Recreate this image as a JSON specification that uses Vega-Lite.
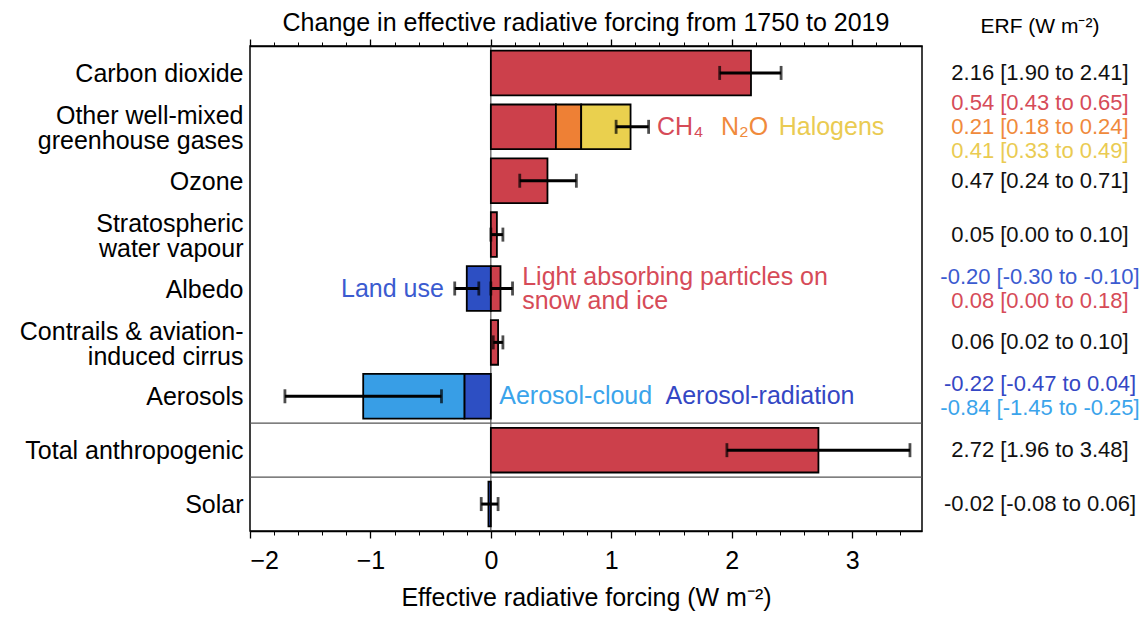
{
  "$schema": "https://vega.github.io/schema/vega-lite/v6.json",
  "background": "white",
  "padding": {"left": 9, "top": 10, "right": 4, "bottom": 4},
  "spacing": 16,
  "config": {
    "font": "Liberation Sans",
    "axis": {"labelFont": "Liberation Sans", "titleFont": "Liberation Sans", "labelColor": "black", "titleColor": "black", "tickColor": "black", "domainColor": "black", "grid": false},
    "title": {"font": "Liberation Sans", "fontWeight": "normal", "color": "black", "fontSize": 25, "anchor": "middle"}
  },
  "datasets": {
    "bars": [
      {"cat": "Carbon dioxide", "comp": "Carbon dioxide", "start": 0, "end": 2.16},
      {"cat": "Other well-mixed|greenhouse gases", "comp": "CH4", "start": 0, "end": 0.54},
      {"cat": "Other well-mixed|greenhouse gases", "comp": "N2O", "start": 0.54, "end": 0.75},
      {"cat": "Other well-mixed|greenhouse gases", "comp": "Halogens", "start": 0.75, "end": 1.16},
      {"cat": "Ozone", "comp": "Ozone", "start": 0, "end": 0.47},
      {"cat": "Stratospheric|water vapour", "comp": "Stratospheric water vapour", "start": 0, "end": 0.05},
      {"cat": "Albedo", "comp": "Land use", "start": -0.2, "end": 0},
      {"cat": "Albedo", "comp": "Light absorbing particles", "start": 0, "end": 0.08},
      {"cat": "Contrails & aviation-|induced cirrus", "comp": "Contrails", "start": 0, "end": 0.06},
      {"cat": "Aerosols", "comp": "Aerosol-radiation", "start": -0.22, "end": 0},
      {"cat": "Aerosols", "comp": "Aerosol-cloud", "start": -1.06, "end": -0.22},
      {"cat": "Total anthropogenic", "comp": "Total anthropogenic", "start": 0, "end": 2.72},
      {"cat": "Solar", "comp": "Solar", "start": -0.02, "end": 0}
    ],
    "errs": [
      {"cat": "Carbon dioxide", "lo": 1.90, "hi": 2.41},
      {"cat": "Other well-mixed|greenhouse gases", "lo": 1.04, "hi": 1.31},
      {"cat": "Ozone", "lo": 0.24, "hi": 0.71},
      {"cat": "Stratospheric|water vapour", "lo": 0.00, "hi": 0.10},
      {"cat": "Albedo", "lo": -0.30, "hi": -0.10},
      {"cat": "Albedo", "lo": 0.00, "hi": 0.18},
      {"cat": "Contrails & aviation-|induced cirrus", "lo": 0.02, "hi": 0.10},
      {"cat": "Aerosols", "lo": -1.71, "hi": -0.41},
      {"cat": "Total anthropogenic", "lo": 1.96, "hi": 3.48},
      {"cat": "Solar", "lo": -0.08, "hi": 0.06}
    ],
    "notesLeft": [
      {"cat": "Other well-mixed|greenhouse gases", "x": 1.38, "label": "CH₄", "tone": "CH4"},
      {"cat": "Other well-mixed|greenhouse gases", "x": 1.91, "label": "N₂O", "tone": "N2O"},
      {"cat": "Other well-mixed|greenhouse gases", "x": 2.39, "label": "Halogens", "tone": "Halogens"},
      {"cat": "Aerosols", "x": 0.07, "label": "Aerosol-cloud", "tone": "ACI"},
      {"cat": "Aerosols", "x": 1.45, "label": "Aerosol-radiation", "tone": "ARI"}
    ],
    "notesTwoLine": [
      {"cat": "Albedo", "x": 0.26, "label": "Light absorbing particles on\nsnow and ice", "tone": "LAP"}
    ],
    "notesRight": [
      {"cat": "Albedo", "x": -0.39, "label": "Land use", "tone": "Land use"}
    ],
    "erf": [
      {"cat": "Carbon dioxide", "slot": "mid", "label": "2.16 [1.90 to 2.41]", "tone": "black"},
      {"cat": "Other well-mixed|greenhouse gases", "slot": "t3", "label": "0.54 [0.43 to 0.65]", "tone": "CH4"},
      {"cat": "Other well-mixed|greenhouse gases", "slot": "mid", "label": "0.21 [0.18 to 0.24]", "tone": "N2O"},
      {"cat": "Other well-mixed|greenhouse gases", "slot": "b3", "label": "0.41 [0.33 to 0.49]", "tone": "Halogens"},
      {"cat": "Ozone", "slot": "mid", "label": "0.47 [0.24 to 0.71]", "tone": "black"},
      {"cat": "Stratospheric|water vapour", "slot": "mid", "label": "0.05 [0.00 to 0.10]", "tone": "black"},
      {"cat": "Albedo", "slot": "t2", "label": "-0.20 [-0.30 to -0.10]", "tone": "Land use"},
      {"cat": "Albedo", "slot": "b2", "label": "0.08 [0.00 to 0.18]", "tone": "LAP"},
      {"cat": "Contrails & aviation-|induced cirrus", "slot": "mid", "label": "0.06 [0.02 to 0.10]", "tone": "black"},
      {"cat": "Aerosols", "slot": "t2", "label": "-0.22 [-0.47 to 0.04]", "tone": "ARI"},
      {"cat": "Aerosols", "slot": "b2", "label": "-0.84 [-1.45 to -0.25]", "tone": "ACI"},
      {"cat": "Total anthropogenic", "slot": "mid", "label": "2.72 [1.96 to 3.48]", "tone": "black"},
      {"cat": "Solar", "slot": "mid", "label": "-0.02 [-0.08 to 0.06]", "tone": "black"}
    ],
    "zero": [{"x": 0}],
    "seps": [{"cat": "Total anthropogenic"}, {"cat": "Solar"}]
  },
  "hconcat": [
    {
      "title": {"text": "Change in effective radiative forcing from 1750 to 2019", "offset": 2},
      "width": 672,
      "height": 485,
      "view": {"stroke": "black", "strokeWidth": 1.5},
      "resolve": {"axis": {"x": "independent"}, "scale": {"color": "independent"}},
      "layer": [
        {
          "data": {"name": "zero"},
          "mark": {"type": "rule", "color": "#333333", "strokeWidth": 1},
          "encoding": {
            "x": {"field": "x", "type": "quantitative",
              "scale": {"domain": [-2, 3.58], "nice": false, "zero": false},
              "axis": {"orient": "bottom", "values": [-2, -1, 0, 1, 2, 3], "tickSize": 7, "tickWidth": 1.3, "labelFontSize": 25, "labelPadding": 10,
                "labelExpr": "datum.value < 0 ? '−' + abs(datum.value) : datum.label",
                "title": "Effective radiative forcing (W m⁻²)", "titleFontSize": 25, "titleFontWeight": "normal", "titlePadding": 12,
                "domain": true, "domainWidth": 1.5}
            }
          }
        },
        {
          "data": {"name": "bars"},
          "mark": {"type": "bar", "stroke": "black", "strokeWidth": 1.8, "size": 44.7},
          "encoding": {
            "y": {"field": "cat", "type": "nominal",
              "scale": {"type": "band", "domain": ["Carbon dioxide", "Other well-mixed|greenhouse gases", "Ozone", "Stratospheric|water vapour", "Albedo", "Contrails & aviation-|induced cirrus", "Aerosols", "Total anthropogenic", "Solar"], "paddingInner": 0.17, "paddingOuter": 0.085},
              "axis": {"title": null, "ticks": false, "domain": false, "labelFontSize": 25, "labelLineHeight": 25, "labelPadding": 7, "labelLimit": 0,
                "labelOffset": {"condition": {"test": "indexof(datum.value, '|') >= 0", "value": -10.5}, "value": 1},
                "labelExpr": "split(datum.label, '|')", "minExtent": 240, "maxExtent": 240}
            },
            "x": {"field": "start", "type": "quantitative",
              "axis": {"orient": "bottom", "values": [-2, -1.8, -1.6, -1.4, -1.2, -1, -0.8, -0.6, -0.4, -0.2, 0, 0.2, 0.4, 0.6, 0.8, 1, 1.2, 1.4, 1.6, 1.8, 2, 2.2, 2.4, 2.6, 2.8, 3, 3.2, 3.4], "tickSize": 4, "tickWidth": 1, "labels": false, "domain": false, "title": null}
            },
            "x2": {"field": "end"},
            "color": {"field": "comp", "type": "nominal", "legend": null,
              "scale": {
                "domain": ["Carbon dioxide", "CH4", "N2O", "Halogens", "Ozone", "Stratospheric water vapour", "Land use", "Light absorbing particles", "Contrails", "Aerosol-radiation", "Aerosol-cloud", "Total anthropogenic", "Solar"],
                "range": ["#CC404B", "#CC404B", "#EE8035", "#EAD04E", "#CC404B", "#CC404B", "#2D4FC3", "#CC404B", "#CC404B", "#2D4FC3", "#389EE6", "#CC404B", "#2D4FC3"]
              }
            }
          }
        },
        {
          "data": {"name": "seps"},
          "mark": {"type": "rule", "color": "#555555", "strokeWidth": 1.2},
          "encoding": {
            "y": {"field": "cat", "type": "nominal", "bandPosition": -0.1024, "scale": {"type": "band"}}
          }
        },
        {
          "data": {"name": "errs"},
          "mark": {"type": "rule", "color": "black", "strokeWidth": 3},
          "encoding": {
            "y": {"field": "cat", "type": "nominal", "scale": {"type": "band"}},
            "x": {"field": "lo", "type": "quantitative",
              "axis": {"orient": "top", "values": [-2, -1, 0, 1, 2, 3], "tickSize": 7, "tickWidth": 1.3, "labels": false, "title": null, "domain": true, "domainWidth": 1.5}
            },
            "x2": {"field": "hi"}
          }
        },
        {
          "data": {"name": "errs"},
          "transform": [{"fold": ["lo", "hi"], "as": ["end", "value"]}],
          "mark": {"type": "tick", "color": "black", "thickness": 2.8, "size": 14, "orient": "vertical"},
          "encoding": {
            "y": {"field": "cat", "type": "nominal", "scale": {"type": "band"}},
            "x": {"field": "value", "type": "quantitative",
              "axis": {"orient": "top", "values": [-2, -1.8, -1.6, -1.4, -1.2, -1, -0.8, -0.6, -0.4, -0.2, 0, 0.2, 0.4, 0.6, 0.8, 1, 1.2, 1.4, 1.6, 1.8, 2, 2.2, 2.4, 2.6, 2.8, 3, 3.2, 3.4], "tickSize": 4, "tickWidth": 1, "labels": false, "domain": false, "title": null}
            }
          }
        },
        {
          "data": {"name": "notesLeft"},
          "mark": {"type": "text", "align": "left", "baseline": "middle", "fontSize": 25},
          "encoding": {
            "y": {"field": "cat", "type": "nominal", "scale": {"type": "band"}},
            "x": {"field": "x", "type": "quantitative", "axis": null},
            "text": {"field": "label"},
            "color": {"field": "tone", "type": "nominal", "legend": null,
              "scale": {"domain": ["CH4", "N2O", "Halogens", "Land use", "LAP", "ARI", "ACI"],
                "range": ["#D64B58", "#F08A3C", "#EACB52", "#3B5BD0", "#D64B58", "#3447C4", "#3BA4EB"]}
            }
          }
        },
        {
          "data": {"name": "notesTwoLine"},
          "mark": {"type": "text", "align": "left", "baseline": "middle", "fontSize": 25, "lineBreak": "\n", "lineHeight": 24, "dy": -12},
          "encoding": {
            "y": {"field": "cat", "type": "nominal", "scale": {"type": "band"}},
            "x": {"field": "x", "type": "quantitative", "axis": null},
            "text": {"field": "label"},
            "color": {"field": "tone", "type": "nominal", "legend": null,
              "scale": {"domain": ["CH4", "N2O", "Halogens", "Land use", "LAP", "ARI", "ACI"],
                "range": ["#D64B58", "#F08A3C", "#EACB52", "#3B5BD0", "#D64B58", "#3447C4", "#3BA4EB"]}
            }
          }
        },
        {
          "data": {"name": "notesRight"},
          "mark": {"type": "text", "align": "right", "baseline": "middle", "fontSize": 25},
          "encoding": {
            "y": {"field": "cat", "type": "nominal", "scale": {"type": "band"}},
            "x": {"field": "x", "type": "quantitative", "axis": null},
            "text": {"field": "label"},
            "color": {"field": "tone", "type": "nominal", "legend": null,
              "scale": {"domain": ["CH4", "N2O", "Halogens", "Land use", "LAP", "ARI", "ACI"],
                "range": ["#D64B58", "#F08A3C", "#EACB52", "#3B5BD0", "#D64B58", "#3447C4", "#3BA4EB"]}
            }
          }
        }
      ]
    },
    {
      "title": {"text": "ERF (W m⁻²)", "fontSize": 21, "offset": 9},
      "width": 200,
      "height": 485,
      "view": {"stroke": null},
      "data": {"name": "erf"},
      "mark": {"type": "text", "align": "center", "baseline": "middle", "fontSize": 22},
      "encoding": {
        "y": {"field": "cat", "type": "nominal", "axis": null,
          "scale": {"type": "band", "domain": ["Carbon dioxide", "Other well-mixed|greenhouse gases", "Ozone", "Stratospheric|water vapour", "Albedo", "Contrails & aviation-|induced cirrus", "Aerosols", "Total anthropogenic", "Solar"], "paddingInner": 0, "paddingOuter": 0}
        },
        "yOffset": {"field": "slot", "type": "nominal",
          "scale": {"type": "point", "domain": ["t3", "t2", "mid", "b2", "b3"], "range": [3, 51], "padding": 0}
        },
        "text": {"field": "label"},
        "color": {"field": "tone", "type": "nominal", "legend": null,
          "scale": {"domain": ["black", "CH4", "N2O", "Halogens", "Land use", "LAP", "ARI", "ACI"],
            "range": ["#111111", "#D64B58", "#F08A3C", "#EACB52", "#3B5BD0", "#D64B58", "#3447C4", "#3BA4EB"]}
        }
      }
    }
  ]
}
